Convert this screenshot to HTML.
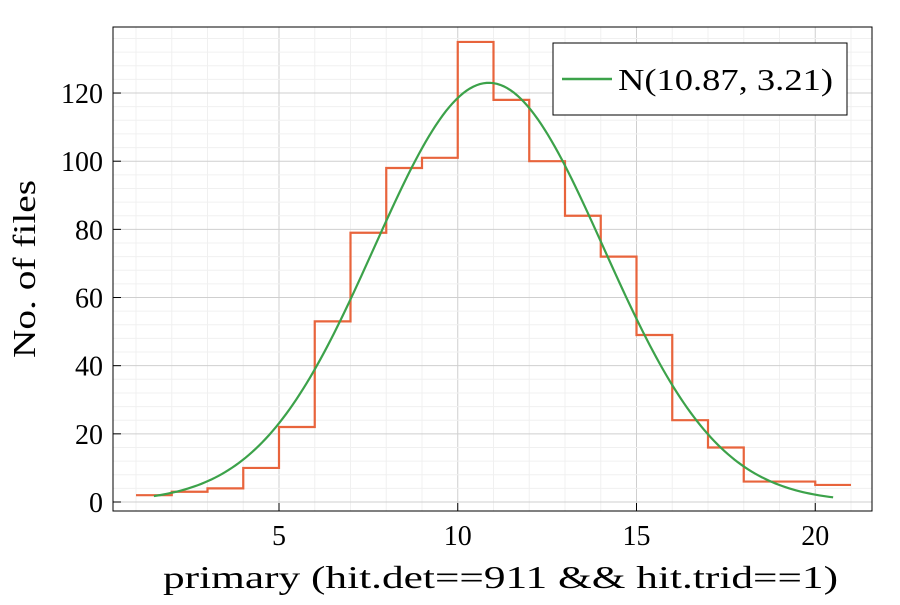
<!DOCTYPE html>
<html><head><meta charset="utf-8"><style>
body{margin:0;background:#fff}
svg text{font-family:"Liberation Serif",serif;fill:#000}
</style></head><body>
<svg id="chart" width="900" height="600">
<rect x="0" y="0" width="900" height="600" fill="#fff"/>
<g id="grid"></g>
<g id="marks"></g>
<rect x="113" y="27" width="759" height="484" fill="none" stroke="#000" stroke-width="1"/>
<g id="axes"></g>
<text x="163" y="588" font-size="32" textLength="675" lengthAdjust="spacingAndGlyphs">primary (hit.det==911 &amp;&amp; hit.trid==1)</text>
<text transform="translate(35,358) rotate(-90)" font-size="32" textLength="178" lengthAdjust="spacingAndGlyphs">No. of files</text>
<g>
<rect x="553" y="43" width="294" height="72" fill="#fff" stroke="#000" stroke-width="1"/>
<line x1="562" y1="79" x2="612" y2="79" stroke="#3ca24a" stroke-width="2.5"/>
<text x="618" y="90" font-size="31" textLength="215" lengthAdjust="spacingAndGlyphs">N(10.87, 3.21)</text>
</g>
</svg>
<script>
const binEdges=[1,2,3,4,5,6,7,8,9,10,11,12,13,14,15,16,17,18,19,20,21];
const counts=[2,3,4,10,22,53,79,98,101,135,118,100,84,72,49,24,16,6,6,5];
const xTicks=[5,10,15,20];
const yTicks=[0,20,40,60,80,100,120];
const fitMu=10.87, fitSigma=3.21, fitPeak=123, fitRange=[1.5,20.5];
const NS="http://www.w3.org/2000/svg";
const X=v=>100.25+v*35.75, Y=v=>502-v*3.408;
function mk(t,a,p){const e=document.createElementNS(NS,t);for(const k in a)e.setAttribute(k,a[k]);p.appendChild(e);return e;}
const grid=document.getElementById('grid'),axes=document.getElementById('axes'),marks=document.getElementById('marks');
for(let v=1;v<=21;v++){mk('line',{x1:X(v),x2:X(v),y1:27,y2:511,stroke:v%5==0?'#cfcfcf':'#f0f0f0','stroke-width':1},grid);}
for(let v=-4;v<=140;v+=4){const y=Y(v);if(y<27||y>511)continue;mk('line',{x1:113,x2:872,y1:y,y2:y,stroke:v%20==0?'#cfcfcf':'#f0f0f0','stroke-width':1},grid);}
xTicks.forEach(v=>{const t=mk('text',{x:X(v),y:545,'font-size':28,'text-anchor':'middle'},axes);t.textContent=v;


mk('line',{x1:X(v),x2:X(v),y1:511,y2:503,stroke:'#000'},axes);});
yTicks.forEach(v=>{const t=mk('text',{x:103,y:Y(v)+10,'font-size':28,'text-anchor':'end'},axes);t.textContent=v;


mk('line',{x1:113,x2:121,y1:Y(v),y2:Y(v),stroke:'#000'},axes);});
let d='';
counts.forEach((c,i)=>{const x0=X(binEdges[i]),x1=X(binEdges[i+1]),y=Y(c);d+=(i==0?'M'+x0+' '+y:'V'+y)+'H'+x1;});
const h=mk('path',{d:d,fill:'none',stroke:'#e8643c','stroke-width':2.2},marks);


let g='';
for(let i=0;i<=200;i++){const v=fitRange[0]+(fitRange[1]-fitRange[0])*i/200;const f=fitPeak*Math.exp(-0.5*((v-fitMu)/fitSigma)**2);g+=(i?'L':'M')+X(v).toFixed(2)+' '+Y(f).toFixed(2);}
const c=mk('path',{d:g,fill:'none',stroke:'#3ca24a','stroke-width':2.2},marks);


</script>
</body></html>
